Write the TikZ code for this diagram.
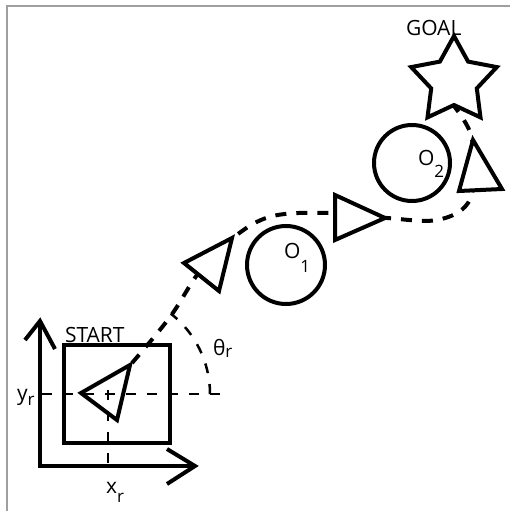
\documentclass[tikz,border=0pt]{standalone}
\usepackage{fontspec}
\setmainfont{Open Sans}
\newcommand\mysub[2]{\raisebox{-#1pt}{\fontsize{17}{17}\selectfont #2}}
\begin{document}
\begin{tikzpicture}[x=1pt,y=-1pt,line width=4pt,
  thickdash/.style={line width=4pt,dash pattern=on 11pt off 10pt},
  thindash/.style={line width=2.5pt,dash pattern=on 10pt off 11pt},
  shapeline/.style={line width=4pt,fill=white},
  lbl/.style={inner sep=0pt,anchor=base west,font=\fontsize{21}{24}\selectfont}]
\useasboundingbox (0,0) rectangle (510,511);
% frame
\draw[gray!75,line width=1.6pt] (7,511) -- (7,6) -- (510,6);
% axes
\coordinate (origin) at (40,466);
\coordinate (ytip) at (40,321);
\coordinate (xtip) at (195,466);
\draw (ytip) -- (origin) -- (xtip);
\draw (25,340) -- (ytip) -- (55,349);
\draw (167,449) -- (xtip) -- (167,484);
% start box
\draw (64,345) rectangle (170,443);
% robot pose lines
\coordinate (rc) at (108,394);
\draw[thindash] (42,394) -- (230,394);
\draw[thindash] (108,390) -- (108,472);
\draw[thindash] (210,394) arc[start angle=0,end angle=52,radius=102pt];
% path
\coordinate (p0) at (132,363);
\coordinate (p1) at (170,317);
\coordinate (p2) at (200,271);
\coordinate (p3) at (234,237);
\coordinate (p4) at (273,216);
\coordinate (p5) at (333,213);
\coordinate (p6) at (387,218);
\coordinate (p7) at (437,220);
\coordinate (p8) at (468,203);
\coordinate (p9) at (474,165);
\coordinate (p10) at (470,132);
\coordinate (p11) at (454,106);
\draw[thickdash] plot[smooth,tension=0.6] coordinates {(p0) (p1) (p2) (p3) (p4) (p5) (p6) (p7) (p8) (p9) (p10) (p11)};
% start robot
\draw (81,393) -- (130,365) -- (117,420) -- cycle;
% robots along path
\draw[shapeline] (184,263) -- (232,238) -- (219,291) -- cycle;
\draw[shapeline] (335,195) -- (385,218) -- (335,240) -- cycle;
\draw[shapeline] (473,140) -- (502,189) -- (459,191) -- cycle;
% obstacles
\draw (286,265) circle[radius=39pt];
\draw (412,163) circle[radius=38pt];
% goal star
\draw[shapeline] (454,36) -- (468.1,61.6) -- (496.8,67.1) -- (476.8,88.4) -- (480.5,117.4)
  -- (454,105) -- (427.5,117.4) -- (431.2,88.4) -- (411.2,67.1) -- (439.9,61.6) -- cycle;
% labels
\node[lbl] (start) at (63,342) {START};
\node[lbl] (goal) at (404,36) {GOAL};
\node[lbl] (o1) at (282,258) {O\mysub{14}{1}};
\node[lbl] (o2) at (416,165) {O\mysub{12}{2}};
\node[lbl] (yr) at (15,400) {y\mysub{5}{r}};
\node[lbl] (xr) at (104,493) {x\mysub{9}{r}};
\node[lbl] (th) at (211,355) {θ\mysub{2}{r}};
\end{tikzpicture}
\end{document}
